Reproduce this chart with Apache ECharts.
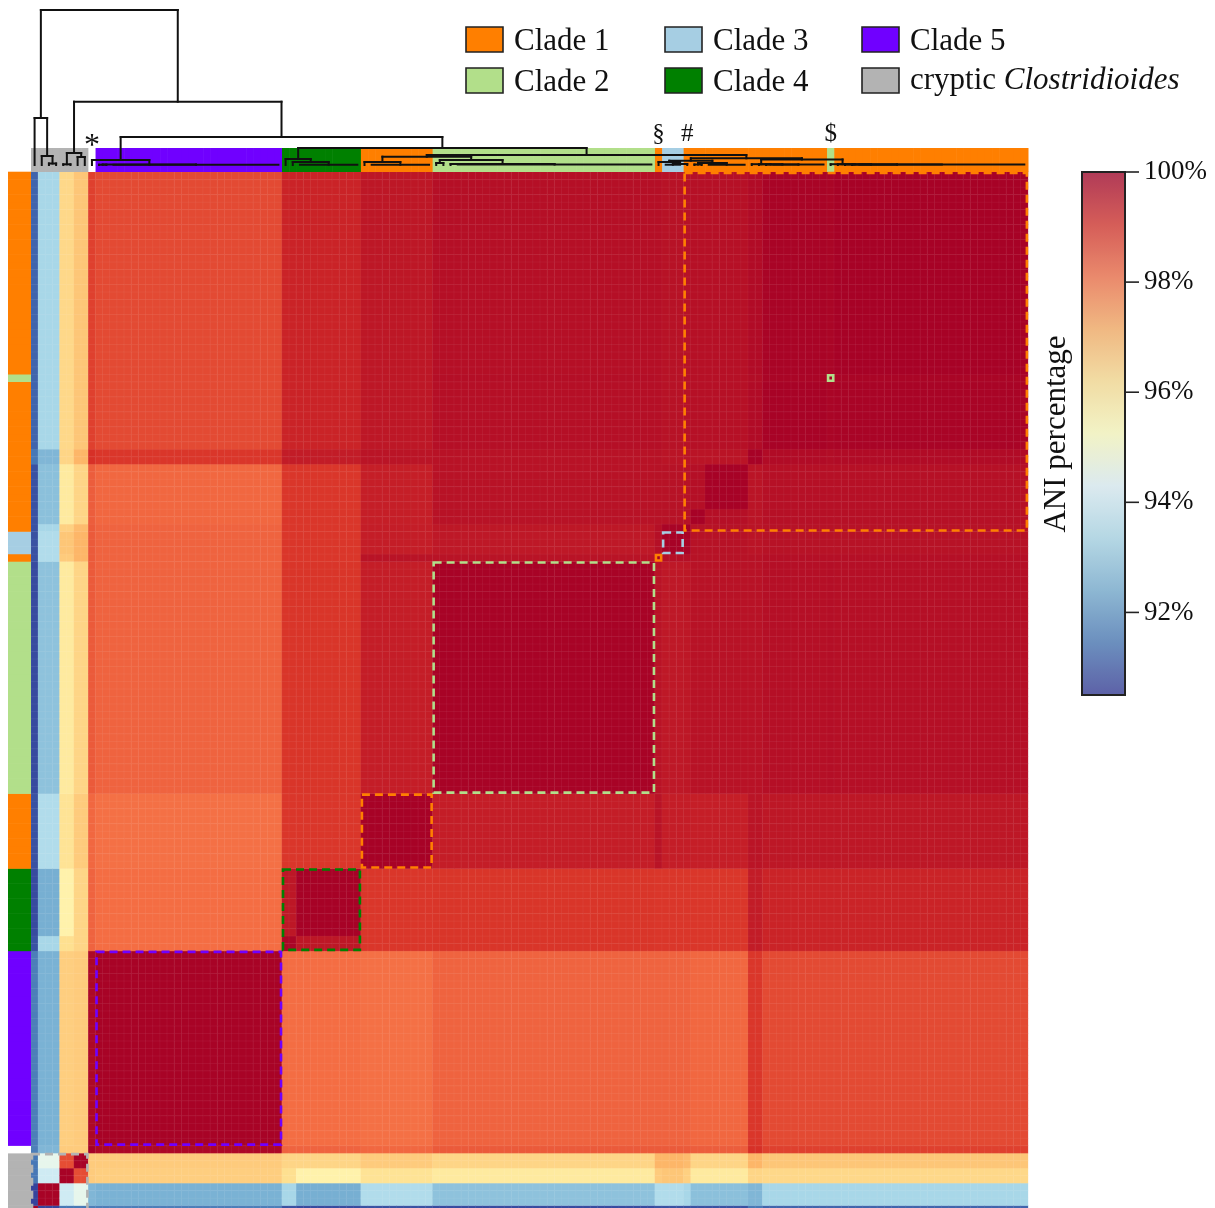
<!DOCTYPE html>
<html><head><meta charset="utf-8">
<script src="https://cdn.jsdelivr.net/npm/echarts@6/dist/echarts.min.js"></script>
<style>html,body{margin:0;padding:0;background:#fff}#c{width:1215px;height:1208px}</style>
</head><body><div id="c"></div>
<script>
// ---------------- DATA ----------------
// genome groups in dendrogram (column) order
const groupNames = ['G0','G1','G2a','G2b','STAR','C5','C4a','C4b','C1a','C2','SEC','C3','L1','L2','ST54','BAND','UP','DOL','C1c'];
const groupSizes = [1,3,2,2,1,26,2,9,10,31,1,3,1,2,6,2,9,1,27];
const groupClade = ['cryptic','cryptic','cryptic','cryptic','none','Clade 5','Clade 4','Clade 4','Clade 1','Clade 2','Clade 1','Clade 3','Clade 1','Clade 1','Clade 1','Clade 1','Clade 1','Clade 2','Clade 1'];
// mean ANI (%) between groups, lower triangle (row i: columns 0..i)
const aniLower = [
  [100],
  [90.7, 99.95],
  [91.5, 94.0, 99.95],
  [91.5, 94.5, 98.6, 99.95],
  [91.6, 92.6, 96.6, 96.6, 100],
  [91.6, 92.5, 96.55, 96.6, 99.85, 99.95],
  [90.9, 93.3, 96.2, 96.4, 98.25, 98.1, 99.9],
  [90.8, 92.45, 95.65, 96.4, 98.25, 98.1, 99.55, 99.97],
  [90.9, 93.45, 96.1, 96.6, 98.2, 98.05, 98.95, 98.95, 99.97],
  [90.8, 92.85, 95.9, 96.4, 98.4, 98.25, 98.97, 98.97, 99.42, 99.95],
  [90.9, 93.45, 96.6, 97.0, 98.4, 98.25, 98.95, 98.95, 99.62, 99.62, 100],
  [90.9, 93.45, 96.7, 97.0, 98.4, 98.25, 98.95, 98.95, 99.42, 99.52, 99.7, 99.97],
  [90.9, 93.3, 96.5, 96.9, 98.4, 98.25, 98.95, 98.95, 99.42, 99.55, 99.7, 99.93, 100],
  [90.9, 92.8, 95.9, 96.4, 98.35, 98.2, 98.95, 98.95, 99.4, 99.64, 99.65, 99.65, 99.65, 99.97],
  [90.9, 92.8, 95.9, 96.4, 98.35, 98.2, 98.95, 98.95, 99.4, 99.64, 99.65, 99.65, 99.65, 99.7, 99.97],
  [91.5, 92.6, 96.4, 97.0, 99.05, 98.95, 99.45, 99.45, 99.6, 99.64, 99.65, 99.6, 99.6, 99.6, 99.6, 99.97],
  [91.2, 93.3, 96.35, 96.7, 98.8, 98.65, 99.3, 99.3, 99.55, 99.7, 99.7, 99.65, 99.65, 99.68, 99.68, 99.78, 99.95],
  [91.2, 93.3, 96.35, 96.7, 98.8, 98.65, 99.3, 99.3, 99.55, 99.72, 99.7, 99.65, 99.65, 99.68, 99.68, 99.75, 99.9, 100],
  [91.2, 93.3, 96.35, 96.7, 98.8, 98.65, 99.3, 99.3, 99.55, 99.7, 99.7, 99.65, 99.65, 99.68, 99.68, 99.78, 99.93, 99.9, 99.97]
];
const cladeNames = ['Clade 1','Clade 2','Clade 3','Clade 4','Clade 5','cryptic'];
const cladeColors = ['#ff7f00','#b2df8a','#a6cee3','#008000','#7000ff','#b3b3b3'];
// dashed boxes: [first group, last group, clade]
const cladeBoxes = [['G0','G2b','cryptic'],['C5','C5','Clade 5'],['C4a','C4b','Clade 4'],['C1a','C1a','Clade 1'],
  ['C2','C2','Clade 2'],['SEC','SEC','Clade 1'],['C3','C3','Clade 3'],['L1','C1c','Clade 1'],['DOL','DOL','Clade 2']];
// dendrogram: [height, child, child], leaf = genome index, {h, span} = collapsed cluster
const dendrogram = [155,
  [47, 0, [9, 1, [1.5, 2, 3]]],
  [63.3,
    [12, [0.7, 4, 5], [8, 6, 7]],
    [28,
      [5, 8, [0.4, [0.3, 9, 10], {h: 0.3, span: [11, 34]}]],
      [17,
        [6, 35, [3, 36, {h: 0.3, span: [37, 45]}]],
        [10,
          [8.3, [3, 46, {h: 0.3, span: [47, 55]}], [5, [2, 56, 57], [1, 58, {h: 0.5, span: [59, 86]}]]],
          [6.7,
            [4.3, [3, 87, [1, {h: 0.3, span: [88, 90]}, 91]], [2, [0.5, 92, 93], {h: 0.3, span: [94, 99]}]],
            [5.5, [0.8, 100, [0.7, 101, [0.6, 102, {h: 0.4, span: [103, 110]}]]],
                  [0.8, 111, [0.7, 112, [0.6, 113, [0.5, 114, {h: 0.5, span: [115, 138]}]]]]]
          ]
        ]
      ]
    ]
  ]
];
const treeMarks = [['*', 8], ['§', 87], ['#', 91], ['$', 111]];
const colorTicks = [92, 94, 96, 98, 100];
const aniMin = 90.5, aniMax = 100;
const rdylbu = ['#313695','#4575b4','#74add1','#abd9e9','#e0f3f8','#ffffbf','#fee090','#fdae61','#f46d43','#d73027','#a50026'];
const stLabelsA = ['ST2','ST8','ST10','ST14','ST15','ST21','ST42','ST43'];
const stLabelsB = ['ST46','ST48','ST49','ST53','ST110','ST185','ST188'];
const stLabelsC = ['ST3','ST701'];
const stLabelD = 'ST54';

// ---------------- BUILD ----------------
const FONT = "'Liberation Serif','Times New Roman',serif";
const groupStart = []; let n = 0;
groupSizes.forEach((s, i) => { groupStart.push(n); n += s; });
const N = n;
const leafGroup = []; groupSizes.forEach((s, g) => { for (let k = 0; k < s; k++) leafGroup.push(g); });
const leaves = leafGroup.map((g, i) => i);
const ani = (a, b) => a >= b ? aniLower[a][b] : aniLower[b][a];
const cells = [];
for (let i = 0; i < N; i++) for (let j = 0; j < N; j++) cells.push([i, j, ani(leafGroup[i], leafGroup[j])]);
const cladeIdx = c => cladeNames.indexOf(c);
const leafClade = leafGroup.map(g => cladeIdx(groupClade[g]));
const boxData = cladeBoxes.map(b => {
  const g0 = groupNames.indexOf(b[0]), g1 = groupNames.indexOf(b[1]);
  return [groupStart[g0], groupStart[g1] + groupSizes[g1] - 1, cladeIdx(b[2])];
});
const segs = [];
function lay(node) {
  if (typeof node === 'number') return {x: node, h: 0};
  if (!Array.isArray(node)) { segs.push([node.span[0], node.h, node.span[1], node.h]); return {x: (node.span[0] + node.span[1]) / 2, h: node.h}; }
  const h = node[0]; const kids = node.slice(1).map(lay);
  kids.forEach(k => segs.push([k.x, k.h, k.x, h]));
  segs.push([kids[0].x, h, kids[kids.length - 1].x, h]);
  return {x: (kids[0].x + kids[kids.length - 1].x) / 2, h: h};
}
lay(dendrogram);
function fade(hex, a) {
  const v = parseInt(hex.slice(1), 16);
  return 'rgba(' + (v >> 16) + ',' + ((v >> 8) & 255) + ',' + (v & 255) + ',' + a + ')';
}

const G = {left: 31, width: 996.9, top: 172, height: 1041};
const chart = echarts.init(document.getElementById('c'), null, {renderer: 'canvas'});
const legendGraphics = [];
cladeNames.forEach((c, i) => {
  const col = Math.floor(i / 2), row = i % 2;
  const bx = [466, 665, 862][col], by = [27, 68][row];
  legendGraphics.push({type: 'rect', shape: {x: bx, y: by, width: 37, height: 25}, style: {fill: cladeColors[i], stroke: '#222', lineWidth: 1.6}});
  if (c === 'cryptic') {
    legendGraphics.push({type: 'text', x: bx + 48, y: by + 13, style: {text: '{a|cryptic }{b|Clostridioides}', verticalAlign: 'middle',
      rich: {a: {fontFamily: FONT, fontSize: 31, fill: '#111'}, b: {fontFamily: FONT, fontSize: 31, fontStyle: 'italic', fill: '#111'}}}});
  } else {
    legendGraphics.push({type: 'text', x: bx + 48, y: by + 15, style: {text: c, font: '31px ' + FONT, fill: '#111', verticalAlign: 'middle'}});
  }
});
const textG = [];
stLabelsA.forEach((t, i) => textG.push({type: 'text', x: 883, y: 194 + i * 26.8, style: {text: t, font: '21px ' + FONT, fill: '#fff', verticalAlign: 'middle'}}));
stLabelsB.forEach((t, i) => textG.push({type: 'text', x: 956, y: 193 + i * 26.8, style: {text: t, font: '21px ' + FONT, fill: '#fff', verticalAlign: 'middle'}}));
stLabelsC.forEach((t, i) => textG.push({type: 'text', x: 440, y: 820 + i * 27, style: {text: t, font: '21px ' + FONT, fill: '#fff', verticalAlign: 'middle'}}));
textG.push({type: 'text', x: 754, y: 488, style: {text: stLabelD, font: '21px ' + FONT, fill: '#fff', verticalAlign: 'middle'}});
textG.push({type: 'text', x: 1057, y: 434, rotation: Math.PI / 2, style: {text: 'ANI percentage', font: '31px ' + FONT, fill: '#111', align: 'center', verticalAlign: 'middle'}});
textG.push({type: 'rect', z: 10, shape: {x: 1082, y: 172, width: 43, height: 523}, style: {fill: null, stroke: '#222', lineWidth: 2}});

const gridBase = {outerBoundsMode: 'none', containLabel: false};
const option = {
  animation: false,
  backgroundColor: '#fff',
  grid: [
    Object.assign({left: G.left, top: G.top, width: G.width, height: G.height}, gridBase),
    Object.assign({left: G.left, top: 148, width: G.width, height: 24}, gridBase),
    Object.assign({left: 8, top: G.top, width: 23, height: G.height}, gridBase),
    Object.assign({left: 1082, top: 172, width: 43, height: 523}, gridBase),
    Object.assign({left: G.left, top: 10, width: G.width, height: 155}, gridBase)
  ],
  xAxis: [
    {gridIndex: 0, type: 'category', data: leaves, show: false},
    {gridIndex: 1, type: 'category', data: leaves, show: false},
    {gridIndex: 2, type: 'value', min: 0, max: 1, show: false},
    {gridIndex: 3, type: 'value', min: 0, max: 1, show: false},
    {gridIndex: 4, type: 'value', min: -0.5, max: N - 0.5, show: false}
  ],
  yAxis: [
    {gridIndex: 0, type: 'category', data: leaves, show: false},
    {gridIndex: 1, type: 'value', min: 0, max: 1, show: false},
    {gridIndex: 2, type: 'category', data: leaves, show: false},
    {gridIndex: 3, type: 'value', min: aniMin, max: aniMax, position: 'right',
      axisLine: {show: true, lineStyle: {color: '#222', width: 2}},
      axisTick: {show: false},
      axisLabel: {customValues: colorTicks, formatter: v => v + '%', fontFamily: FONT, fontSize: 27, color: '#111', margin: 19},
      splitLine: {show: false}},
    {gridIndex: 4, type: 'value', min: 0, max: 155, show: false}
  ],
  visualMap: [{
    type: 'continuous', seriesIndex: 0, dimension: 2, min: aniMin, max: aniMax,
    inRange: {color: rdylbu},
    controller: {inRange: {color: rdylbu.map(c => fade(c, 0.72))}},
    show: true, left: 1082, top: 172, itemWidth: 43, itemHeight: 523, padding: 0,
    text: null, calculable: false, hoverLink: false, showLabel: false
  }],
  graphic: legendGraphics.concat(textG),
  series: [
    {type: 'heatmap', xAxisIndex: 0, yAxisIndex: 0, data: cells, progressive: 0,
      itemStyle: {borderColor: 'rgba(255,255,255,0.1)', borderWidth: 0.5}, emphasis: {disabled: true}},
    {type: 'custom', xAxisIndex: 0, yAxisIndex: 0, data: boxData, clip: false, z: 5, silent: true,
      renderItem: (p, api) => {
        const s = api.value(0), e = api.value(1), sz = api.size([1, 1]);
        const a = api.coord([s, s]), b = api.coord([e, e]);
        return {type: 'rect', shape: {x: a[0] - sz[0] / 2 + 1, y: b[1] - sz[1] / 2 + 1, width: b[0] - a[0] + sz[0] - 2, height: a[1] - b[1] + sz[1] - 2},
          style: {fill: null, stroke: cladeColors[api.value(2)], lineWidth: 2.6, lineDash: e > s ? [8, 5] : null}};
      }},
    {type: 'custom', xAxisIndex: 1, yAxisIndex: 1, data: leaves.map(i => [i, leafClade[i]]), silent: true,
      renderItem: (p, api) => {
        const c = api.coord([api.value(0), 1]), d = api.coord([api.value(0), 0]), w = api.size([1, 0])[0];
        const k = api.value(1);
        return {type: 'rect', shape: {x: c[0] - w / 2, y: c[1], width: w + 0.6, height: d[1] - c[1]},
          style: {fill: k >= 0 ? cladeColors[k] : '#fff'}};
      }},
    {type: 'custom', xAxisIndex: 2, yAxisIndex: 2, data: leaves.map(i => [i, leafClade[i]]), silent: true,
      renderItem: (p, api) => {
        const c = api.coord([0, api.value(0)]), d = api.coord([1, api.value(0)]), h = api.size([0, 1])[1];
        const k = api.value(1);
        return {type: 'rect', shape: {x: c[0], y: c[1] - h / 2 - 0.3, width: d[0] - c[0], height: h + 0.6},
          style: {fill: k >= 0 ? cladeColors[k] : '#fff'}};
      }},
    {type: 'custom', xAxisIndex: 4, yAxisIndex: 4, data: segs, clip: false, z: 6, silent: true,
      renderItem: (p, api) => {
        const a = api.coord([api.value(0), api.value(1)]), b = api.coord([api.value(2), api.value(3)]);
        return {type: 'line', shape: {x1: a[0], y1: a[1], x2: b[0], y2: b[1]}, style: {stroke: '#111', lineWidth: 2, lineCap: 'square'}};
      }},
    {type: 'custom', xAxisIndex: 4, yAxisIndex: 4, clip: false, z: 7, silent: true,
      data: treeMarks.map(m => [m[1], 0]),
      renderItem: (p, api) => {
        const c = api.coord([api.value(0), api.value(1)]);
        const m = treeMarks[p.dataIndex][0];
        const star = m === '*';
        return {type: 'text', x: c[0], y: c[1] - (star ? 18 : 31),
          style: {text: m, fontFamily: FONT, fontSize: star ? 32 : 25, fill: '#111', align: 'center', verticalAlign: 'middle'}};
      }},
    {type: 'custom', xAxisIndex: 3, yAxisIndex: 3, clip: false, silent: true, z: 11,
      data: colorTicks.map(v => [1, v]),
      renderItem: (p, api) => {
        const c = api.coord([api.value(0), api.value(1)]);
        return {type: 'line', shape: {x1: c[0], y1: c[1], x2: c[0] + 14, y2: c[1]}, style: {stroke: '#222', lineWidth: 1.6}};
      }}
  ]
};
chart.setOption(option);
</script></body></html>
